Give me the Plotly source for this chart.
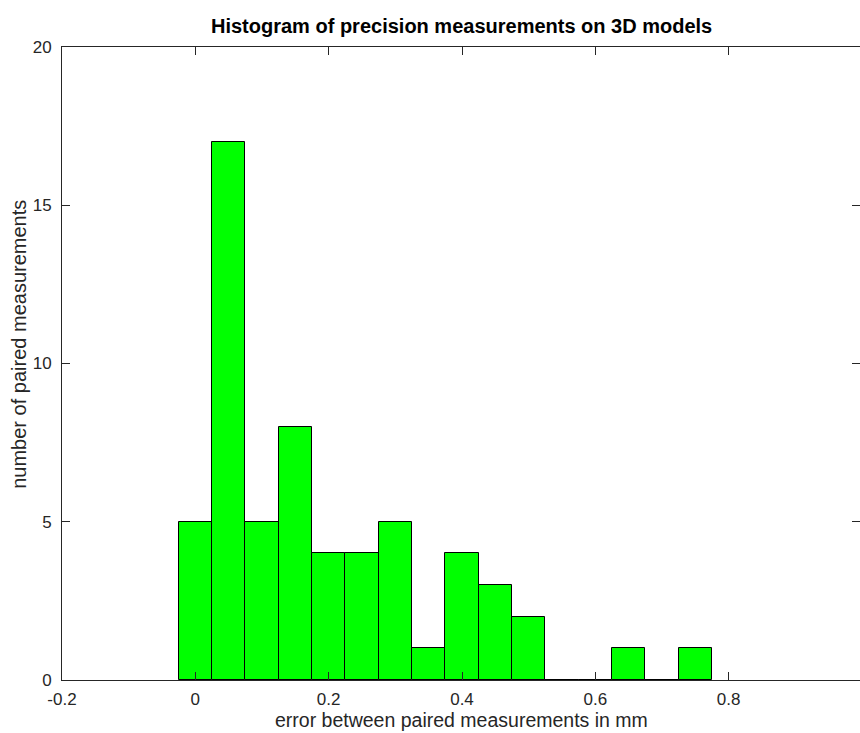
import plotly.graph_objects as go

bin_centers = [0.0, 0.05, 0.10, 0.15, 0.20, 0.25, 0.30, 0.35, 0.40, 0.45, 0.50, 0.55, 0.60, 0.65, 0.70, 0.75]
counts = [5, 17, 5, 8, 4, 4, 5, 1, 4, 3, 2, 0, 0, 1, 0, 1]
bin_width = 0.05
x_ticks = [-0.2, 0, 0.2, 0.4, 0.6, 0.8, 1.0]
x_tick_labels = ["-0.2", "0", "0.2", "0.4", "0.6", "0.8", "1"]
y_ticks = [0, 5, 10, 15, 20]

title = "Histogram of precision measurements on 3D models"
xlabel = "error between paired measurements in mm"
ylabel = "number of paired measurements"

AX = "#262626"
FONT = "Liberation Sans, Arial, Helvetica, sans-serif"

fig = go.Figure()
fig.add_trace(go.Bar(
    x=bin_centers, y=counts, width=bin_width,
    marker=dict(color="#00ff00", line=dict(color="black", width=1)),
    showlegend=False, hoverinfo="x+y",
))
# invisible trace to draw right-side ticks
fig.add_trace(go.Scatter(x=[None], y=[None], yaxis="y2", showlegend=False, hoverinfo="skip"))

fig.update_layout(
    width=860, height=733,
    margin=dict(l=62, r=0, t=47, b=53),
    paper_bgcolor="white", plot_bgcolor="white",
    bargap=0,
    font=dict(family=FONT, size=17, color=AX),
    xaxis=dict(
        range=[-0.2, 0.997], tickvals=x_ticks, ticktext=x_tick_labels,
        ticks="inside", ticklen=8, tickcolor=AX, tickwidth=1,
        showline=True, linecolor=AX, linewidth=1, mirror="ticks",
        showgrid=False, zeroline=False, ticklabelstandoff=4,
        tickfont=dict(size=17, color=AX),
    ),
    yaxis=dict(
        range=[0, 20], tickvals=y_ticks,
        ticks="inside", ticklen=8, tickcolor=AX, tickwidth=1,
        showline=True, linecolor=AX, linewidth=1, mirror=False,
        showgrid=False, zeroline=False, ticklabelstandoff=6,
        tickfont=dict(size=17, color=AX),
    ),
    yaxis2=dict(
        range=[0, 20], tickvals=y_ticks, overlaying="y", side="right",
        ticks="inside", ticklen=8, tickcolor=AX, tickwidth=1,
        showline=False, showgrid=False, zeroline=False, showticklabels=False,
    ),
    annotations=[
        dict(text="<b>" + title + "</b>", xref="paper", yref="paper", x=0.5, y=1.033,
             xanchor="center", yanchor="middle", showarrow=False,
             font=dict(size=20, color="black", family=FONT)),
        dict(text=xlabel, xref="paper", yref="paper", x=0.5, y=-0.0635,
             xanchor="center", yanchor="middle", showarrow=False,
             font=dict(size=19.5, color=AX, family=FONT)),
        dict(text=ylabel, xref="paper", yref="paper", x=-0.054, y=0.531,
             xanchor="center", yanchor="middle", showarrow=False, textangle=-90,
             font=dict(size=20, color=AX, family=FONT)),
    ],
)

fig.write_html("out.html", config={"displayModeBar": False},
               post_script="document.body.style.margin='0';document.body.style.overflow='hidden';")
